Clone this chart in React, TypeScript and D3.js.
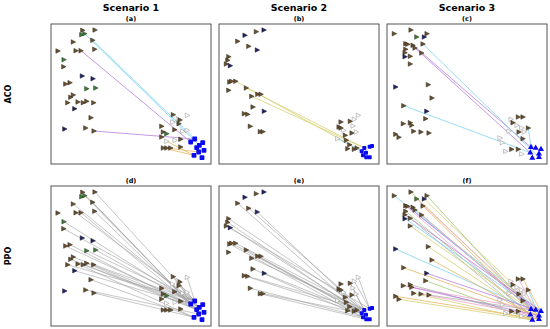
import * as d3 from "d3";

// agent positions per scenario: [x, y, kind] in panel units (x 0..160, y 0..140 from top)
// kind: 0 brown, 1 green, 2 navy, 3 hollow
const agents1: [number, number, number][] = [
  [31.7, 6.3, 0], [44, 6, 0], [30.7, 10.7, 1], [33.7, 9.7, 1], [41.7, 16.3, 0],
  [22.3, 18, 0], [7, 27, 0], [25, 26.7, 0], [30, 26.7, 0], [43.7, 25.3, 0],
  [13, 35.7, 1], [12.7, 42.7, 0], [31.3, 52, 2], [42, 54.7, 2], [14.7, 60, 0],
  [19, 58.7, 0], [35.7, 64.7, 1], [44.7, 64, 1], [22.3, 71, 0], [19.7, 73.3, 0],
  [16.7, 78.7, 0], [27, 78, 0], [32.3, 78.7, 0], [35.7, 77.3, 0], [42.7, 78.7, 0],
  [23.7, 84.7, 2], [40, 93.7, 0], [13.7, 105, 2], [34.7, 104, 0], [43, 107, 0],
  [122.3, 90.7, 0], [127.3, 94.7, 3], [129, 96, 0], [136.3, 91.3, 3], [121.7, 98, 3],
  [128, 99.7, 0], [110.7, 102.3, 0], [123.7, 105.7, 0], [131.7, 107.3, 3], [136.3, 106.3, 3],
  [112.3, 108, 0], [115.7, 109.7, 1], [110.7, 113, 0], [115.7, 117.3, 3], [124, 116.3, 3],
  [129.7, 115.3, 0], [112.3, 124, 0], [115.7, 124, 0], [119.7, 124, 0], [129.7, 123, 0],
];
const targets1: [number, number][] = [
  [143.7, 115], [139.7, 118], [151.7, 118.7], [148.3, 121.3], [145.7, 123.7],
  [153, 126.3], [147.7, 128], [143, 131.3], [151, 133.7],
];

const agents2: [number, number, number][] = [
  [26, 11.3, 2], [37.3, 7.7, 0], [45, 6, 2], [18.7, 17.3, 0], [29.7, 22.3, 0],
  [38.3, 26, 2], [9.7, 32.7, 0], [8.7, 36.3, 0], [7.3, 40, 0], [11.3, 41.7, 2],
  [10.7, 58, 0], [12.7, 57.3, 0], [16.7, 57.3, 0], [9.7, 66.3, 0], [27.3, 64, 0],
  [38.7, 70.3, 0], [42, 70.3, 0], [32.7, 72.3, 0], [34, 83, 0], [45.3, 87.3, 2],
  [25.3, 89.7, 0], [28.7, 90.3, 0], [31.3, 102.3, 0], [41.3, 107.7, 0], [44, 107.7, 0],
  [122, 98, 0], [131.3, 97.3, 0], [135.3, 95.3, 3], [139.3, 91.3, 3], [120, 103, 0],
  [124.7, 106.3, 3], [122, 104, 0], [134, 102, 3], [133, 109, 0], [137.3, 108, 3],
  [126.3, 111.3, 0], [118.7, 114.7, 3], [127.3, 116.3, 0], [130.7, 120.7, 0], [128.7, 124.7, 0],
  [135.3, 125.3, 0], [138, 124, 0],
];
const targets2: [number, number][] = [
  [145.3, 124], [150.7, 122.7], [153, 122], [142.7, 127.3], [147, 128.7],
  [144, 131.3], [147.3, 133.3], [150.7, 133.3],
];

const agents3: [number, number, number][] = [
  [7.3, 9.7, 0], [24, 6, 0], [29.7, 13, 1], [37.3, 13, 2], [40, 9.7, 0],
  [18.7, 19.7, 0], [20.7, 20.3, 0], [26, 21.3, 0], [36, 20, 0], [28, 24, 0],
  [18.7, 25.3, 0], [18, 28.7, 0], [23.3, 32.3, 0], [18, 32.7, 2], [34.7, 29, 0],
  [23.3, 40, 0], [8.7, 63, 2], [41.3, 60.7, 0], [45, 74, 0], [16.7, 81.7, 0],
  [39.7, 87.3, 2], [38.7, 94.7, 0], [16.3, 99.7, 0], [23.3, 98.7, 0], [24.7, 101.3, 0],
  [26.7, 107.3, 0], [34, 108, 0], [42, 109, 0], [8.7, 110.3, 0], [12, 113.3, 0],
  [124, 95.3, 3], [131.3, 93, 0], [136, 93, 0], [126, 98.7, 0], [130, 101.3, 3],
  [134.7, 104, 3], [141.3, 104, 0], [122, 107.3, 3], [132, 108, 0], [137.3, 108, 3],
  [136, 114.7, 0], [113, 114, 3], [115.3, 118.7, 3], [124.7, 125.3, 0], [131.3, 125.3, 0],
  [118.7, 127.3, 3], [134.7, 130, 3],
];
const targets3: [number, number][] = [
  [144, 123.3], [148.7, 124], [154, 125.3], [143.3, 128.7], [152, 129.7],
  [145.3, 134], [152, 133.3],
];

// links: [agent index, target index, colour group]
const acoLinks1 = [[4, 0, 3], [3, 3, 3], [8, 1, 2], [29, 0, 2], [43, 7, 4], [46, 7, 4], [47, 6, 4]];
const acoLinks2 = [[12, 3, 0], [14, 0, 0], [17, 0, 0], [36, 3, 3]];
const acoLinks3 = [[7, 0, 2], [9, 3, 2], [8, 6, 3], [19, 3, 3], [36, 0, 3]];
const ppoLinks1 = [
  [0, 1, 7], [1, 0, 7], [3, 4, 7], [4, 1, 7], [5, 3, 7], [7, 0, 7], [8, 4, 7], [9, 1, 7],
  [10, 3, 7], [11, 0, 7], [14, 1, 7], [15, 4, 7], [16, 0, 7], [17, 3, 7], [18, 1, 7],
  [19, 4, 7], [20, 0, 7], [21, 7, 7], [22, 1, 7], [23, 4, 7], [24, 0, 7], [25, 3, 7],
  [26, 7, 7], [28, 6, 7], [29, 7, 7], [30, 0, 7], [33, 0, 7], [31, 1, 7], [35, 3, 7], [37, 4, 7],
];
const ppoLinks2 = [
  [3, 3, 7], [4, 0, 7], [5, 4, 7], [6, 0, 7], [7, 3, 7], [8, 1, 7], [9, 4, 7], [10, 5, 7],
  [11, 3, 7], [12, 0, 7], [14, 4, 7], [15, 3, 7], [17, 0, 7], [18, 5, 7], [19, 4, 7],
  [20, 3, 7], [21, 0, 7], [22, 5, 7], [23, 6, 7], [24, 3, 7], [27, 1, 7], [28, 1, 7],
  [26, 0, 7], [32, 4, 7],
];
const ppoLinks3 = [
  [0, 2, 3], [1, 4, 0], [2, 1, 1], [3, 2, 0], [4, 0, 5], [5, 3, 1], [6, 1, 2], [7, 4, 0],
  [8, 6, 4], [9, 0, 3], [10, 3, 5], [11, 2, 2], [12, 5, 6], [13, 1, 3], [14, 0, 1],
  [15, 4, 0], [16, 0, 3], [17, 3, 0], [18, 6, 4], [19, 4, 4], [20, 1, 2], [21, 5, 5],
  [22, 0, 1], [23, 6, 6], [24, 4, 2], [25, 5, 0], [26, 3, 1], [27, 2, 6], [28, 6, 4],
  [29, 5, 0], [30, 0, 1], [31, 1, 1], [32, 2, 4], [36, 4, 3],
];

const scenarios = ["Scenario 1", "Scenario 2", "Scenario 3"];
const methods = ["ACO", "PPO"];
const panelTags = ["(a)", "(b)", "(c)", "(d)", "(e)", "(f)"];

const linkColors = ["#d6d070", "#f2a2c8", "#b47ce0", "#78d4ee", "#e8b45c", "#9cc874", "#b0b0b0", "#a0a0a0"];
const kindFill = ["#68502e", "#3f7a38", "#22235e", "#ffffff"];
const kindStroke = ["#2b2418", "#1e3a1a", "#111130", "#8a8a8a"];

const colX = [51, 219, 387];
const rowY = [24, 186];
const PW = 160;
const PH = 140;

const panels = [
  { a: agents1, t: targets1, links: acoLinks1, shape: "sq", col: 0, row: 0 },
  { a: agents2, t: targets2, links: acoLinks2, shape: "sq2", col: 1, row: 0 },
  { a: agents3, t: targets3, links: acoLinks3, shape: "tri", col: 2, row: 0 },
  { a: agents1, t: targets1, links: ppoLinks1, shape: "sq", col: 0, row: 1 },
  { a: agents2, t: targets2, links: ppoLinks2, shape: "sq2", col: 1, row: 1 },
  { a: agents3, t: targets3, links: ppoLinks3, shape: "tri", col: 2, row: 1 },
];

const tri = "M-2.1,-2.3L2.4,0L-2.1,2.3Z";

function Panel({ p, i }: { p: (typeof panels)[number]; i: number }) {
  const x0 = colX[p.col];
  const y0 = rowY[p.row];
  const x = d3.scaleLinear().domain([0, 160]).range([x0, x0 + PW]);
  const y = d3.scaleLinear().domain([0, 140]).range([y0, y0 + PH]);
  const symTri = d3.symbol(d3.symbolTriangle, 16)()!;
  return (
    <g>
      <rect x={x0} y={y0} width={PW} height={PH} fill="#fff" />
      {p.links.map(([a, t, g], k) => (
        <line
          key={"l" + k}
          x1={x(p.a[a][0])}
          y1={y(p.a[a][1])}
          x2={x(p.t[t][0])}
          y2={y(p.t[t][1])}
          stroke={linkColors[g]}
          strokeWidth={g === 7 ? 0.7 : 0.9}
          opacity={0.85}
        />
      ))}
      {p.a.map(([ax, ay, kd], k) => (
        <path
          key={"a" + k}
          d={tri}
          transform={`translate(${x(ax)},${y(ay)})`}
          fill={kindFill[kd]}
          stroke={kindStroke[kd]}
          strokeWidth={0.5}
        />
      ))}
      {p.t.map(([tx, ty], k) =>
        p.shape === "tri" ? (
          <path key={"t" + k} d={symTri} transform={`translate(${x(tx)},${y(ty)})`} fill="#0a0aee" />
        ) : (
          <rect
            key={"t" + k}
            x={x(tx) - (p.shape === "sq" ? 2.4 : 2)}
            y={y(ty) - (p.shape === "sq" ? 2.4 : 2)}
            width={p.shape === "sq" ? 4.8 : 4}
            height={p.shape === "sq" ? 4.8 : 4}
            rx={0.8}
            fill="#0a0aee"
          />
        )
      )}
      <rect x={x0} y={y0} width={PW} height={PH} fill="none" stroke="#555" strokeWidth={1} />
      <text
        x={x0 + PW / 2}
        y={y0 - 3}
        textAnchor="middle"
        fontSize={6.5}
        fontWeight="bold"
        fontFamily="DejaVu Sans"
      >
        {panelTags[i]}
      </text>
    </g>
  );
}

export default function App() {
  return (
    <svg width={550} height={329} style={{ position: "absolute", left: 0, top: 0 }}>
      <rect width={550} height={329} fill="#fff" />
      {scenarios.map((s, c) => (
        <text
          key={s}
          x={colX[c] + PW / 2}
          y={10.5}
          textAnchor="middle"
          fontSize={9.5}
          fontWeight="bold"
          fontFamily="DejaVu Sans"
        >
          {s}
        </text>
      ))}
      {methods.map((m, r) => (
        <text
          key={m}
          transform={`translate(11,${rowY[r] + PH / 2}) rotate(-90)`}
          textAnchor="middle"
          fontSize={8}
          fontWeight="bold"
          fontFamily="DejaVu Sans"
        >
          {m}
        </text>
      ))}
      {panels.map((p, i) => (
        <Panel key={i} p={p} i={i} />
      ))}
    </svg>
  );
}
